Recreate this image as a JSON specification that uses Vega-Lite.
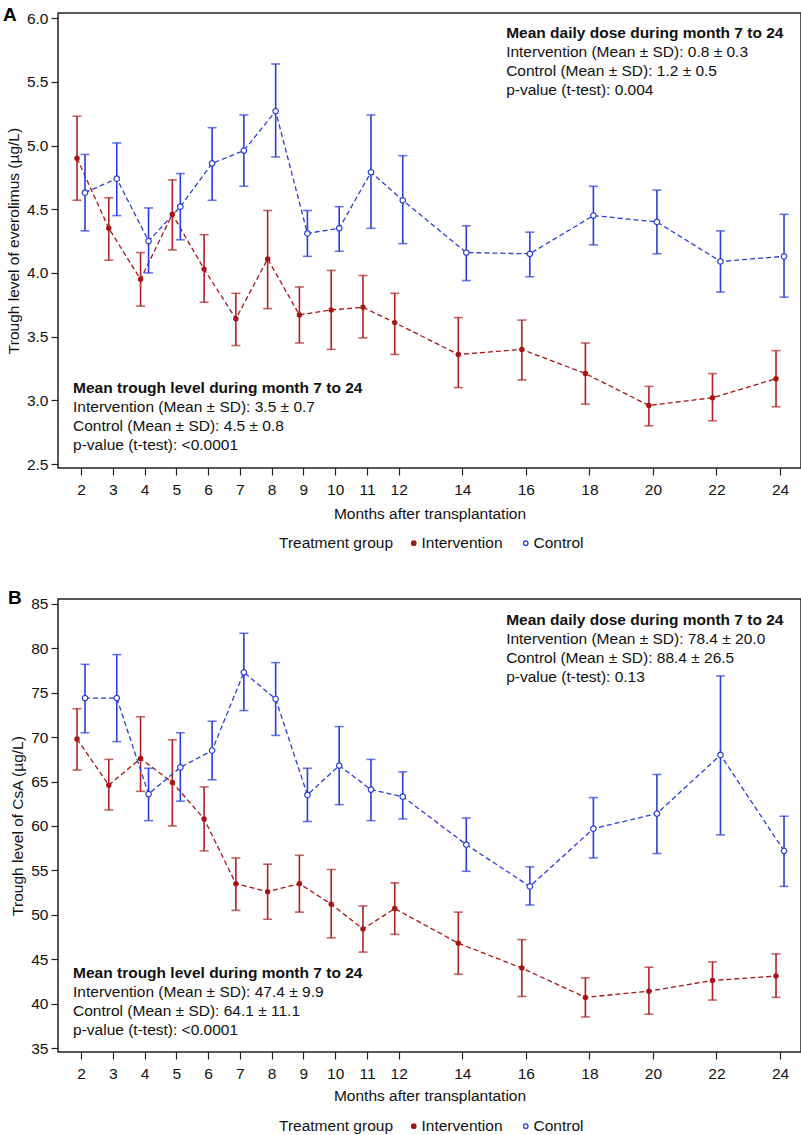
{
"$schema": "https://vega.github.io/schema/vega-lite/v6.json",
"padding": {"left": 2, "top": 4, "right": 0, "bottom": 0},
"spacing": 35,
"config": {
  "font": "Liberation Sans",
  "view": {"stroke": "#222", "strokeWidth": 1.5},
  "axis": {"labelFontSize": 15.5, "titleFontSize": 15.5, "titleFontWeight": "normal", "labelColor": "#111", "titleColor": "#111", "tickColor": "#222", "tickSize": 7, "tickWidth": 1.2, "domain": false, "grid": false, "labelFont": "Liberation Sans", "titleFont": "Liberation Sans"},
  "legend": {"labelFont": "Liberation Sans", "titleFont": "Liberation Sans"},
  "text": {"font": "Liberation Sans"}
},
"datasets": {
"evero": [
{"month":2,"group":"Intervention","mean":4.90,"lo":4.57,"hi":5.23},
{"month":3,"group":"Intervention","mean":4.35,"lo":4.10,"hi":4.59},
{"month":4,"group":"Intervention","mean":3.95,"lo":3.74,"hi":4.16},
{"month":5,"group":"Intervention","mean":4.46,"lo":4.18,"hi":4.73},
{"month":6,"group":"Intervention","mean":4.03,"lo":3.77,"hi":4.30},
{"month":7,"group":"Intervention","mean":3.64,"lo":3.43,"hi":3.84},
{"month":8,"group":"Intervention","mean":4.11,"lo":3.72,"hi":4.49},
{"month":9,"group":"Intervention","mean":3.67,"lo":3.45,"hi":3.89},
{"month":10,"group":"Intervention","mean":3.71,"lo":3.40,"hi":4.02},
{"month":11,"group":"Intervention","mean":3.73,"lo":3.49,"hi":3.98},
{"month":12,"group":"Intervention","mean":3.61,"lo":3.36,"hi":3.84},
{"month":14,"group":"Intervention","mean":3.36,"lo":3.10,"hi":3.65},
{"month":16,"group":"Intervention","mean":3.40,"lo":3.16,"hi":3.63},
{"month":18,"group":"Intervention","mean":3.21,"lo":2.97,"hi":3.45},
{"month":20,"group":"Intervention","mean":2.96,"lo":2.80,"hi":3.11},
{"month":22,"group":"Intervention","mean":3.02,"lo":2.84,"hi":3.21},
{"month":24,"group":"Intervention","mean":3.17,"lo":2.95,"hi":3.39},
{"month":2,"group":"Control","mean":4.63,"lo":4.33,"hi":4.93},
{"month":3,"group":"Control","mean":4.74,"lo":4.45,"hi":5.02},
{"month":4,"group":"Control","mean":4.25,"lo":4.00,"hi":4.51},
{"month":5,"group":"Control","mean":4.52,"lo":4.26,"hi":4.78},
{"month":6,"group":"Control","mean":4.86,"lo":4.57,"hi":5.14},
{"month":7,"group":"Control","mean":4.96,"lo":4.68,"hi":5.24},
{"month":8,"group":"Control","mean":5.27,"lo":4.91,"hi":5.64},
{"month":9,"group":"Control","mean":4.31,"lo":4.13,"hi":4.49},
{"month":10,"group":"Control","mean":4.35,"lo":4.17,"hi":4.52},
{"month":11,"group":"Control","mean":4.79,"lo":4.35,"hi":5.24},
{"month":12,"group":"Control","mean":4.57,"lo":4.23,"hi":4.92},
{"month":14,"group":"Control","mean":4.16,"lo":3.94,"hi":4.37},
{"month":16,"group":"Control","mean":4.15,"lo":3.97,"hi":4.32},
{"month":18,"group":"Control","mean":4.45,"lo":4.22,"hi":4.68},
{"month":20,"group":"Control","mean":4.40,"lo":4.15,"hi":4.65},
{"month":22,"group":"Control","mean":4.09,"lo":3.85,"hi":4.33},
{"month":24,"group":"Control","mean":4.13,"lo":3.81,"hi":4.46}
],
"csa": [
{"month":2,"group":"Intervention","mean":69.8,"lo":66.3,"hi":73.2},
{"month":3,"group":"Intervention","mean":64.6,"lo":61.8,"hi":67.5},
{"month":4,"group":"Intervention","mean":67.6,"lo":63.9,"hi":72.3},
{"month":5,"group":"Intervention","mean":64.9,"lo":60.0,"hi":69.7},
{"month":6,"group":"Intervention","mean":60.8,"lo":57.2,"hi":64.4},
{"month":7,"group":"Intervention","mean":53.5,"lo":50.5,"hi":56.4},
{"month":8,"group":"Intervention","mean":52.6,"lo":49.5,"hi":55.7},
{"month":9,"group":"Intervention","mean":53.5,"lo":50.3,"hi":56.7},
{"month":10,"group":"Intervention","mean":51.2,"lo":47.4,"hi":55.1},
{"month":11,"group":"Intervention","mean":48.4,"lo":45.8,"hi":51.0},
{"month":12,"group":"Intervention","mean":50.7,"lo":47.8,"hi":53.6},
{"month":14,"group":"Intervention","mean":46.8,"lo":43.3,"hi":50.3},
{"month":16,"group":"Intervention","mean":44.0,"lo":40.8,"hi":47.2},
{"month":18,"group":"Intervention","mean":40.7,"lo":38.5,"hi":42.9},
{"month":20,"group":"Intervention","mean":41.4,"lo":38.8,"hi":44.1},
{"month":22,"group":"Intervention","mean":42.6,"lo":40.4,"hi":44.7},
{"month":24,"group":"Intervention","mean":43.1,"lo":40.7,"hi":45.6},
{"month":2,"group":"Control","mean":74.4,"lo":70.5,"hi":78.2},
{"month":3,"group":"Control","mean":74.4,"lo":69.5,"hi":79.3},
{"month":4,"group":"Control","mean":63.6,"lo":60.6,"hi":66.5},
{"month":5,"group":"Control","mean":66.6,"lo":62.8,"hi":70.5},
{"month":6,"group":"Control","mean":68.5,"lo":65.2,"hi":71.8},
{"month":7,"group":"Control","mean":77.3,"lo":73.0,"hi":81.7},
{"month":8,"group":"Control","mean":74.3,"lo":70.2,"hi":78.4},
{"month":9,"group":"Control","mean":63.5,"lo":60.5,"hi":66.5},
{"month":10,"group":"Control","mean":66.8,"lo":62.4,"hi":71.2},
{"month":11,"group":"Control","mean":64.1,"lo":60.6,"hi":67.5},
{"month":12,"group":"Control","mean":63.3,"lo":60.8,"hi":66.1},
{"month":14,"group":"Control","mean":57.9,"lo":54.9,"hi":60.9},
{"month":16,"group":"Control","mean":53.2,"lo":51.1,"hi":55.4},
{"month":18,"group":"Control","mean":59.7,"lo":56.4,"hi":63.2},
{"month":20,"group":"Control","mean":61.4,"lo":56.9,"hi":65.8},
{"month":22,"group":"Control","mean":68.0,"lo":59.0,"hi":76.9},
{"month":24,"group":"Control","mean":57.2,"lo":53.2,"hi":61.1}
]
},
"resolve": {"scale": {"x": "independent", "y": "independent", "color": "independent", "fill": "independent"}, "legend": {"color": "independent", "fill": "independent"}},
"vconcat": [
{
"width": 743, "height": 455,
"data": {"name": "evero"},
"encoding": {
  "x": {"field": "month", "type": "quantitative", "scale": {"domain": [1.276, 24.66], "nice": false, "zero": false}, "axis": {"values": [2,3,4,5,6,7,8,9,10,11,12,14,16,18,20,22,24], "title": "Months after transplantation", "labelPadding": 7.5, "titlePadding": 8}},
  "y": {"field": "mean", "type": "quantitative", "title": "Trough level of everolimus (µg/L)", "scale": {"domain": [2.469, 6.04], "nice": false, "zero": false}, "axis": {"values": [2.5,3,3.5,4,4.5,5,5.5,6], "format": ".1f", "labelPadding": 3, "titlePadding": 5}}
},
"layer": [
  {"transform": [{"filter": "datum.group === 'Intervention'"}], "mark": {"type": "line", "xOffset": -4, "color": "#a81414", "strokeDash": [5, 3], "strokeWidth": 1.3}, "encoding": {}},
  {"transform": [{"filter": "datum.group === 'Intervention'"}], "mark": {"type": "rule", "xOffset": -4, "color": "#b02222", "strokeWidth": 1.6}, "encoding": {"y": {"field": "lo", "type": "quantitative", "title": "Trough level of everolimus (µg/L)"}, "y2": {"field": "hi"}}},
  {"transform": [{"filter": "datum.group === 'Intervention'"}], "mark": {"type": "tick", "orient": "horizontal", "xOffset": -4, "color": "#b02222", "size": 9, "thickness": 1.6}, "encoding": {"y": {"field": "lo", "type": "quantitative", "title": "Trough level of everolimus (µg/L)"}}},
  {"transform": [{"filter": "datum.group === 'Intervention'"}], "mark": {"type": "tick", "orient": "horizontal", "xOffset": -4, "color": "#b02222", "size": 9, "thickness": 1.6}, "encoding": {"y": {"field": "hi", "type": "quantitative", "title": "Trough level of everolimus (µg/L)"}}},
  {"transform": [{"filter": "datum.group === 'Control'"}], "mark": {"type": "line", "xOffset": 4, "color": "#2a3ed8", "strokeDash": [5, 3], "strokeWidth": 1.3}, "encoding": {}},
  {"transform": [{"filter": "datum.group === 'Control'"}], "mark": {"type": "rule", "xOffset": 4, "color": "#2a3ed8", "strokeWidth": 1.6}, "encoding": {"y": {"field": "lo", "type": "quantitative", "title": "Trough level of everolimus (µg/L)"}, "y2": {"field": "hi"}}},
  {"transform": [{"filter": "datum.group === 'Control'"}], "mark": {"type": "tick", "orient": "horizontal", "xOffset": 4, "color": "#2a3ed8", "size": 9, "thickness": 1.6}, "encoding": {"y": {"field": "lo", "type": "quantitative", "title": "Trough level of everolimus (µg/L)"}}},
  {"transform": [{"filter": "datum.group === 'Control'"}], "mark": {"type": "tick", "orient": "horizontal", "xOffset": 4, "color": "#2a3ed8", "size": 9, "thickness": 1.6}, "encoding": {"y": {"field": "hi", "type": "quantitative", "title": "Trough level of everolimus (µg/L)"}}},
  {"transform": [{"filter": "datum.group === 'Intervention'"}], "mark": {"type": "point", "xOffset": -4, "filled": false, "strokeWidth": 1.2, "size": 18, "opacity": 1},
   "encoding": {
     "color": {"field": "group", "type": "nominal", "scale": {"domain": ["Intervention", "Control"], "range": ["#a81414", "#2a3ed8"]}, "legend": {"title": "Treatment group", "orient": "none", "legendX": 221, "legendY": 522, "direction": "horizontal", "titleOrient": "left", "symbolType": "circle", "symbolSize": 20, "symbolStrokeWidth": 1.2, "titlePadding": 12, "labelOffset": 0, "columnPadding": 15, "titleFontSize": 15.5, "labelFontSize": 15.5, "titleFontWeight": "normal", "titleColor": "#111", "labelColor": "#111"}},
     "fill": {"field": "group", "type": "nominal", "scale": {"domain": ["Intervention", "Control"], "range": ["#a81414", "#ffffff"]}, "legend": {"title": "Treatment group", "orient": "none", "legendX": 221, "legendY": 522, "direction": "horizontal", "titleOrient": "left", "symbolType": "circle", "symbolSize": 20, "symbolStrokeWidth": 1.2, "titlePadding": 12, "labelOffset": 0, "columnPadding": 15, "titleFontSize": 15.5, "labelFontSize": 15.5, "titleFontWeight": "normal", "titleColor": "#111", "labelColor": "#111"}}
   }},
  {"transform": [{"filter": "datum.group === 'Control'"}], "mark": {"type": "point", "xOffset": 4, "filled": false, "strokeWidth": 1.2, "size": 30, "opacity": 1},
   "encoding": {
     "color": {"field": "group", "type": "nominal", "scale": {"domain": ["Intervention", "Control"], "range": ["#a81414", "#2a3ed8"]}, "legend": {"title": "Treatment group", "orient": "none", "legendX": 221, "legendY": 522, "direction": "horizontal", "titleOrient": "left", "symbolType": "circle", "symbolSize": 20, "symbolStrokeWidth": 1.2, "titlePadding": 12, "labelOffset": 0, "columnPadding": 15, "titleFontSize": 15.5, "labelFontSize": 15.5, "titleFontWeight": "normal", "titleColor": "#111", "labelColor": "#111"}},
     "fill": {"field": "group", "type": "nominal", "scale": {"domain": ["Intervention", "Control"], "range": ["#a81414", "#ffffff"]}, "legend": {"title": "Treatment group", "orient": "none", "legendX": 221, "legendY": 522, "direction": "horizontal", "titleOrient": "left", "symbolType": "circle", "symbolSize": 20, "symbolStrokeWidth": 1.2, "titlePadding": 12, "labelOffset": 0, "columnPadding": 15, "titleFontSize": 15.5, "labelFontSize": 15.5, "titleFontWeight": "normal", "titleColor": "#111", "labelColor": "#111"}}
   }},
  {"transform": [{"filter": "datum.month === 2 && datum.group === 'Intervention'"}], "mark": {"type": "text", "align": "left", "baseline": "alphabetic", "fontSize": 19, "fontWeight": "bold", "color": "#000"}, "encoding": {"x": {"datum": -0.455, "type": "quantitative"}, "y": {"datum": 5.98, "type": "quantitative"}, "text": {"value": "A"}}},
  {"transform": [{"filter": "datum.month === 2 && datum.group === 'Intervention'"}], "mark": {"type": "text", "align": "left", "baseline": "alphabetic", "fontSize": 15.5, "fontWeight": "bold", "color": "#111"}, "encoding": {"x": {"datum": 15.38, "type": "quantitative"}, "y": {"datum": 5.843, "type": "quantitative"}, "text": {"value": "Mean daily dose during month 7 to 24"}}},
  {"transform": [{"filter": "datum.month === 2 && datum.group === 'Intervention'"}], "mark": {"type": "text", "align": "left", "baseline": "alphabetic", "fontSize": 15.5, "lineHeight": 19, "color": "#111"}, "encoding": {"x": {"datum": 15.38, "type": "quantitative"}, "y": {"datum": 5.691, "type": "quantitative"}, "text": {"value": ["Intervention (Mean ± SD): 0.8 ± 0.3", "Control (Mean ± SD): 1.2 ± 0.5", "p-value (t-test): 0.004"]}}},
  {"transform": [{"filter": "datum.month === 2 && datum.group === 'Intervention'"}], "mark": {"type": "text", "align": "left", "baseline": "alphabetic", "fontSize": 15.5, "fontWeight": "bold", "color": "#111"}, "encoding": {"x": {"datum": 1.75, "type": "quantitative"}, "y": {"datum": 3.057, "type": "quantitative"}, "text": {"value": "Mean trough level during month 7 to 24"}}},
  {"transform": [{"filter": "datum.month === 2 && datum.group === 'Intervention'"}], "mark": {"type": "text", "align": "left", "baseline": "alphabetic", "fontSize": 15.5, "lineHeight": 19, "color": "#111"}, "encoding": {"x": {"datum": 1.75, "type": "quantitative"}, "y": {"datum": 2.907, "type": "quantitative"}, "text": {"value": ["Intervention (Mean ± SD): 3.5 ± 0.7", "Control (Mean ± SD): 4.5 ± 0.8", "p-value (t-test): <0.0001"]}}}
]
},
{
"width": 743, "height": 453,
"data": {"name": "csa"},
"encoding": {
  "x": {"field": "month", "type": "quantitative", "scale": {"domain": [1.276, 24.66], "nice": false, "zero": false}, "axis": {"values": [2,3,4,5,6,7,8,9,10,11,12,14,16,18,20,22,24], "title": "Months after transplantation", "labelPadding": 7, "titlePadding": 7}},
  "y": {"field": "mean", "type": "quantitative", "title": "Trough level of CsA (µg/L)", "scale": {"domain": [34.55, 85.56], "nice": false, "zero": false}, "axis": {"values": [35,40,45,50,55,60,65,70,75,80,85], "labelPadding": 3, "titlePadding": 5}}
},
"layer": [
  {"transform": [{"filter": "datum.group === 'Intervention'"}], "mark": {"type": "line", "xOffset": -4, "color": "#a81414", "strokeDash": [5, 3], "strokeWidth": 1.3}, "encoding": {}},
  {"transform": [{"filter": "datum.group === 'Intervention'"}], "mark": {"type": "rule", "xOffset": -4, "color": "#b02222", "strokeWidth": 1.6}, "encoding": {"y": {"field": "lo", "type": "quantitative", "title": "Trough level of CsA (µg/L)"}, "y2": {"field": "hi"}}},
  {"transform": [{"filter": "datum.group === 'Intervention'"}], "mark": {"type": "tick", "orient": "horizontal", "xOffset": -4, "color": "#b02222", "size": 9, "thickness": 1.6}, "encoding": {"y": {"field": "lo", "type": "quantitative", "title": "Trough level of CsA (µg/L)"}}},
  {"transform": [{"filter": "datum.group === 'Intervention'"}], "mark": {"type": "tick", "orient": "horizontal", "xOffset": -4, "color": "#b02222", "size": 9, "thickness": 1.6}, "encoding": {"y": {"field": "hi", "type": "quantitative", "title": "Trough level of CsA (µg/L)"}}},
  {"transform": [{"filter": "datum.group === 'Control'"}], "mark": {"type": "line", "xOffset": 4, "color": "#2a3ed8", "strokeDash": [5, 3], "strokeWidth": 1.3}, "encoding": {}},
  {"transform": [{"filter": "datum.group === 'Control'"}], "mark": {"type": "rule", "xOffset": 4, "color": "#2a3ed8", "strokeWidth": 1.6}, "encoding": {"y": {"field": "lo", "type": "quantitative", "title": "Trough level of CsA (µg/L)"}, "y2": {"field": "hi"}}},
  {"transform": [{"filter": "datum.group === 'Control'"}], "mark": {"type": "tick", "orient": "horizontal", "xOffset": 4, "color": "#2a3ed8", "size": 9, "thickness": 1.6}, "encoding": {"y": {"field": "lo", "type": "quantitative", "title": "Trough level of CsA (µg/L)"}}},
  {"transform": [{"filter": "datum.group === 'Control'"}], "mark": {"type": "tick", "orient": "horizontal", "xOffset": 4, "color": "#2a3ed8", "size": 9, "thickness": 1.6}, "encoding": {"y": {"field": "hi", "type": "quantitative", "title": "Trough level of CsA (µg/L)"}}},
  {"transform": [{"filter": "datum.group === 'Intervention'"}], "mark": {"type": "point", "xOffset": -4, "filled": false, "strokeWidth": 1.2, "size": 18, "opacity": 1},
   "encoding": {
     "color": {"field": "group", "type": "nominal", "scale": {"domain": ["Intervention", "Control"], "range": ["#a81414", "#2a3ed8"]}, "legend": {"title": "Treatment group", "orient": "none", "legendX": 221, "legendY": 519, "direction": "horizontal", "titleOrient": "left", "symbolType": "circle", "symbolSize": 20, "symbolStrokeWidth": 1.2, "titlePadding": 12, "labelOffset": 0, "columnPadding": 15, "titleFontSize": 15.5, "labelFontSize": 15.5, "titleFontWeight": "normal", "titleColor": "#111", "labelColor": "#111"}},
     "fill": {"field": "group", "type": "nominal", "scale": {"domain": ["Intervention", "Control"], "range": ["#a81414", "#ffffff"]}, "legend": {"title": "Treatment group", "orient": "none", "legendX": 221, "legendY": 519, "direction": "horizontal", "titleOrient": "left", "symbolType": "circle", "symbolSize": 20, "symbolStrokeWidth": 1.2, "titlePadding": 12, "labelOffset": 0, "columnPadding": 15, "titleFontSize": 15.5, "labelFontSize": 15.5, "titleFontWeight": "normal", "titleColor": "#111", "labelColor": "#111"}}
   }},
  {"transform": [{"filter": "datum.group === 'Control'"}], "mark": {"type": "point", "xOffset": 4, "filled": false, "strokeWidth": 1.2, "size": 30, "opacity": 1},
   "encoding": {
     "color": {"field": "group", "type": "nominal", "scale": {"domain": ["Intervention", "Control"], "range": ["#a81414", "#2a3ed8"]}, "legend": {"title": "Treatment group", "orient": "none", "legendX": 221, "legendY": 519, "direction": "horizontal", "titleOrient": "left", "symbolType": "circle", "symbolSize": 20, "symbolStrokeWidth": 1.2, "titlePadding": 12, "labelOffset": 0, "columnPadding": 15, "titleFontSize": 15.5, "labelFontSize": 15.5, "titleFontWeight": "normal", "titleColor": "#111", "labelColor": "#111"}},
     "fill": {"field": "group", "type": "nominal", "scale": {"domain": ["Intervention", "Control"], "range": ["#a81414", "#ffffff"]}, "legend": {"title": "Treatment group", "orient": "none", "legendX": 221, "legendY": 519, "direction": "horizontal", "titleOrient": "left", "symbolType": "circle", "symbolSize": 20, "symbolStrokeWidth": 1.2, "titlePadding": 12, "labelOffset": 0, "columnPadding": 15, "titleFontSize": 15.5, "labelFontSize": 15.5, "titleFontWeight": "normal", "titleColor": "#111", "labelColor": "#111"}}
   }},
  {"transform": [{"filter": "datum.month === 2 && datum.group === 'Intervention'"}], "mark": {"type": "text", "align": "left", "baseline": "alphabetic", "fontSize": 19, "fontWeight": "bold", "color": "#000"}, "encoding": {"x": {"datum": -0.298, "type": "quantitative"}, "y": {"datum": 85.0, "type": "quantitative"}, "text": {"value": "B"}}},
  {"transform": [{"filter": "datum.month === 2 && datum.group === 'Intervention'"}], "mark": {"type": "text", "align": "left", "baseline": "alphabetic", "fontSize": 15.5, "fontWeight": "bold", "color": "#111"}, "encoding": {"x": {"datum": 15.38, "type": "quantitative"}, "y": {"datum": 82.64, "type": "quantitative"}, "text": {"value": "Mean daily dose during month 7 to 24"}}},
  {"transform": [{"filter": "datum.month === 2 && datum.group === 'Intervention'"}], "mark": {"type": "text", "align": "left", "baseline": "alphabetic", "fontSize": 15.5, "lineHeight": 19, "color": "#111"}, "encoding": {"x": {"datum": 15.38, "type": "quantitative"}, "y": {"datum": 80.5, "type": "quantitative"}, "text": {"value": ["Intervention (Mean ± SD): 78.4 ± 20.0", "Control (Mean ± SD): 88.4 ± 26.5", "p-value (t-test): 0.13"]}}},
  {"transform": [{"filter": "datum.month === 2 && datum.group === 'Intervention'"}], "mark": {"type": "text", "align": "left", "baseline": "alphabetic", "fontSize": 15.5, "fontWeight": "bold", "color": "#111"}, "encoding": {"x": {"datum": 1.75, "type": "quantitative"}, "y": {"datum": 42.84, "type": "quantitative"}, "text": {"value": "Mean trough level during month 7 to 24"}}},
  {"transform": [{"filter": "datum.month === 2 && datum.group === 'Intervention'"}], "mark": {"type": "text", "align": "left", "baseline": "alphabetic", "fontSize": 15.5, "lineHeight": 19, "color": "#111"}, "encoding": {"x": {"datum": 1.75, "type": "quantitative"}, "y": {"datum": 40.71, "type": "quantitative"}, "text": {"value": ["Intervention (Mean ± SD): 47.4 ± 9.9", "Control (Mean ± SD): 64.1 ± 11.1", "p-value (t-test): <0.0001"]}}}
]
}
]
}
